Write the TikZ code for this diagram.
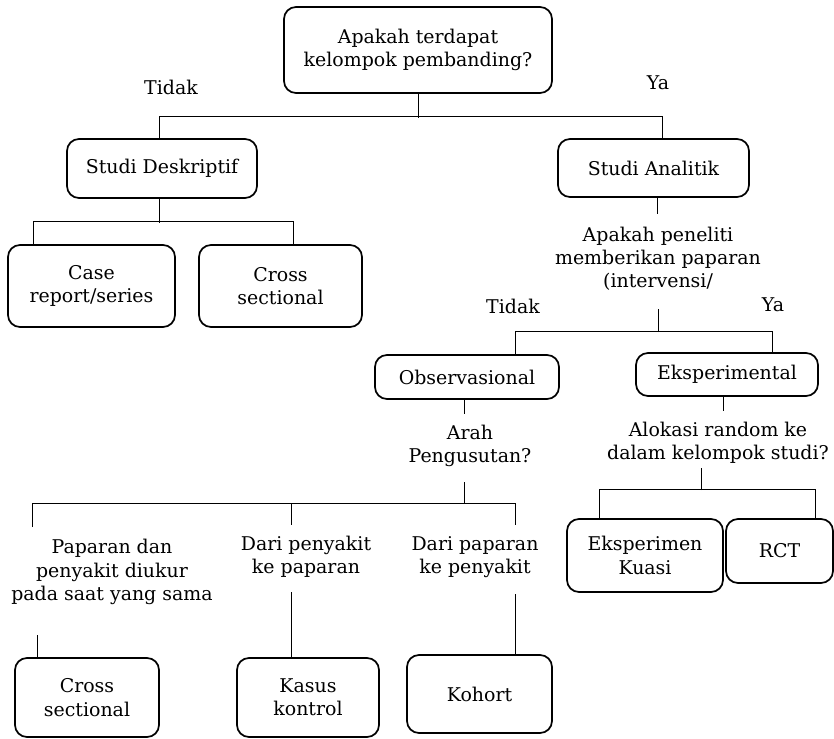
\documentclass[tikz,border=0pt]{standalone}
\usepackage{fontspec}
\setmainfont{DejaVu Serif}
\usetikzlibrary{calc}
\newcommand\dfont{\fontsize{14.2}{17.4}\selectfont}
\tikzset{
  box/.style={draw, line width=1.3pt, rounded corners=9pt, align=center, inner sep=0pt, font=\dfont},
  txt/.style={align=center, inner sep=0pt, font=\dfont},
  ln/.style={line width=0.7pt},
}
\begin{document}
\begin{tikzpicture}[x=0.75pt,y=-0.75pt]
\useasboundingbox (0,0) rectangle (834,738);
% boxes
\node[box, minimum width=201pt, minimum height=64.5pt] (top) at (418,50) {Apakah terdapat\\kelompok pembanding?};
\node[box, minimum width=142.5pt, minimum height=44.25pt] (desk) at (162,168.5) {Studi Deskriptif};
\node[box, minimum width=143.25pt, minimum height=43.5pt] (anal) at (653.5,168) {Studi Analitik};
\node[box, minimum width=125.25pt, minimum height=61.5pt] (case) at (91.5,286) {Case\\report/series};
\node[box, minimum width=122.25pt, minimum height=61.5pt] (crossA) at (280.5,286) {Cross\\sectional};
\node[box, minimum width=138pt, minimum height=33pt] (obs) at (467,377) {Observasional};
\node[box, minimum width=136.5pt, minimum height=32.25pt] (eksp) at (727,374.5) {Eksperimental};
\node[box, minimum width=117pt, minimum height=54.75pt] (kuasi) at (645,555.5) {Eksperimen\\Kuasi};
\node[box, minimum width=80.25pt, minimum height=48pt] (rct) at (779.5,551) {RCT};
\node[box, minimum width=108pt, minimum height=59.25pt] (crossB) at (87,697.5) {Cross\\sectional};
\node[box, minimum width=106.5pt, minimum height=59.25pt] (kasus) at (308,697.5) {Kasus\\kontrol};
\node[box, minimum width=108.75pt, minimum height=58.5pt] (kohort) at (479.5,694) {Kohort};
% text
\node[txt] (tidakA) at (171,87) {Tidak};
\node[txt] (yaA) at (658,83) {Ya};
\node[txt] (q2) at (658,259) {Apakah peneliti\\memberikan paparan\\(intervensi/};
\node[txt] (tidakB) at (513,306) {Tidak};
\node[txt] (yaB) at (773,305) {Ya};
\node[txt] (q3) at (470,446) {Arah\\Pengusutan?};
\node[txt] (q4) at (718,443) {Alokasi random ke\\dalam kelompok studi?};
\node[txt] (t1) at (112,572) {Paparan dan\\penyakit diukur\\pada saat yang sama};
\node[txt] (t2) at (306,557) {Dari penyakit\\ke paparan};
\node[txt] (t3) at (475,557) {Dari paparan\\ke penyakit};
% connectors
\draw[ln] (top.south) -- ++(0,24);
\draw[ln] ($(desk.north)+(-3,0)$) -- ++(0,-22) -| ($(anal.north)+(8.5,0)$);
\draw[ln] ($(desk.south)+(-3,0)$) -- ++(0,24);
\draw[ln] ($(case.north)+(-58.5,0)$) -- ++(0,-23) -| ($(crossA.north)+(12.5,0)$);
\draw[ln] ($(anal.south)+(3.5,0)$) -- ++(0,16);
\coordinate (j3) at (658,332);
\draw[ln] (j3) -- ++(0,-23);
\draw[ln] ($(obs.north)+(48,0)$) -- ++(0,-23) -| ($(eksp.north)+(45,0)$);
\draw[ln] ($(obs.south)+(-3,0)$) -- ++(0,14);
\coordinate (j4) at (464,503);
\draw[ln] (j4) -- ++(0,-21);
\draw[ln] (32,527) -- (32,503) -- (515,503) -- (515,525);
\draw[ln] (291,503) -- (291,525);
\draw[ln] ($(crossB.north)+(-50,0)$) -- ++(0,-22);
\draw[ln] ($(kasus.north)+(-17,0)$) -- ++(0,-65);
\draw[ln] ($(kohort.north)+(35.5,0)$) -- ++(0,-60);
\draw[ln] ($(eksp.south)+(-4,0)$) -- ++(0,14);
\coordinate (j5) at (701,490);
\draw[ln] (j5) -- ++(0,-22);
\draw[ln] ($(kuasi.north)+(-46,0)$) -- ++(0,-29) -| ($(rct.north)+(35.5,0)$);
\end{tikzpicture}
\end{document}
